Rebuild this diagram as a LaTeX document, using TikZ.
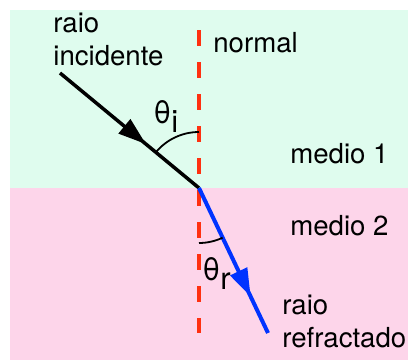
\documentclass[tikz,border=0pt]{standalone}
\usepackage{fontspec}
\setmainfont{TeX Gyre Heros}
\usetikzlibrary{calc,arrows.meta,decorations.markings}

\definecolor{mintbg}{RGB}{223,252,238}
\definecolor{pinkbg}{RGB}{253,213,234}
\definecolor{normalred}{RGB}{255,48,16}
\definecolor{rayblue}{RGB}{0,51,255}

\tikzset{
  lbl/.style={anchor=base west,inner sep=0pt,align=left},
  anglbl/.style={lbl,font=\fontsize{15.5}{17}\selectfont},
  midarrow/.style={postaction={decorate},decoration={markings,
      mark=at position #1 with {\arrow{Triangle[length=14pt,width=9pt]}}}},
}

\begin{document}
\begin{tikzpicture}[x=0.5pt,y=0.5pt,
    every node/.style={font=\fontsize{13.8}{16}\selectfont}]
  \useasboundingbox (0,0) rectangle (408,360);
  % the two media
  \fill[mintbg] (10,172.5) rectangle (408,350);
  \fill[pinkbg] (10,0) rectangle (408,172.5);

  \coordinate (hit) at (199,172);
  \coordinate (src) at (60,287);
  \coordinate (dst) at (268,27);
  \coordinate (ntop) at (199,330);
  \coordinate (nbot) at (199,27);

  % normal
  \draw[normalred,line width=2pt,dash pattern=on 8pt off 8pt] (ntop) -- (nbot);

  % rays
  \draw[line width=1.75pt,midarrow=0.62] (src) -- (hit);
  \draw[rayblue,line width=2pt,midarrow=0.75] (hit) -- (dst);

  % angles
  \draw[line width=0.9pt] ($(hit)+(0,56)$) arc[start angle=90,end angle=140.4,radius=56];
  \draw[line width=0.9pt] ($(hit)+(0,-55)$) arc[start angle=-90,end angle=-64.6,radius=55];

  \node[lbl] (inc) at (53,295) {raio\\incidente};
  \node[lbl] (nrm) at (213,307) {normal};
  \node[lbl] (m1) at (290,197) {medio 1};
  \node[lbl] (m2) at (290,125) {medio 2};
  \node[anglbl] (ti) at (153,237) {θ\raisebox{-0.3em}{i}};
  \node[anglbl] (tr) at (202,80) {θ\raisebox{-0.3em}{r}};
  \node[lbl] (ref) at (282,13) {raio\\refractado};
\end{tikzpicture}
\end{document}
